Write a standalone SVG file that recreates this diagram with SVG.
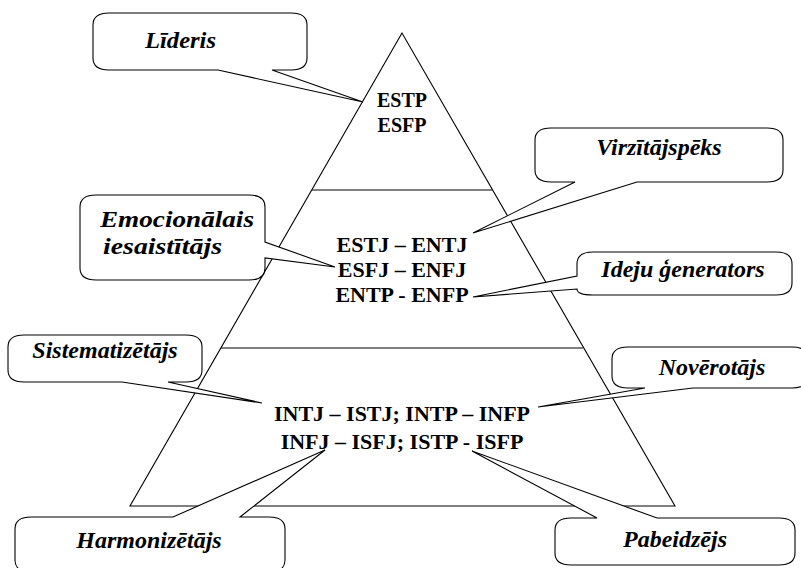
<svg xmlns="http://www.w3.org/2000/svg" width="801" height="568" viewBox="0 0 801 568">
<style>
.ln{fill:none;stroke:#000;stroke-width:1.1}
.co{fill:#fff;stroke:#000;stroke-width:1.1;stroke-linejoin:miter}
text{font-family:"Liberation Serif","Times New Roman",serif;font-weight:bold;fill:#000}
.lb{font-style:italic;font-size:24px}
.tx{font-size:22px;text-anchor:middle}
.tx20{font-size:20px}
</style>
<rect width="801" height="568" fill="#fff"/>
<g id="pyramid">
<polygon class="ln" points="402,33 130,506 675,506"/>
<line class="ln" x1="312" y1="190" x2="492" y2="190"/>
<line class="ln" x1="221" y1="348" x2="583" y2="348"/>
<text class="tx tx20" x="402" y="107">ESTP</text>
<text class="tx tx20" x="402" y="132">ESFP</text>
<text class="tx" x="402" y="252">ESTJ – ENTJ</text>
<text class="tx" x="402" y="277">ESFJ – ENFJ</text>
<text class="tx" x="402" y="302">ENTP - ENFP</text>
<text class="tx" x="402" y="421">INTJ – ISTJ; INTP – INFP</text>
<text class="tx" x="402" y="449">INFJ – ISFJ; ISTP - ISFP</text>
</g>
<g id="connectors"></g>
<g id="lideris">
<path class="co" d="M109,13 H291 Q307,13 307,25 V58 Q307,70 291,70 H272 L363,102 L218,70 H109 Q93,70 93,58 V25 Q93,13 109,13 Z"/>
<text class="lb" x="145" y="48" textLength="71" lengthAdjust="spacingAndGlyphs">Līderis</text>
</g>
<g id="virzitajspeks">
<path class="co" d="M551,128 H767 Q783,128 783,140 V170 Q783,182 767,182 H637 L473,233 L575,182 H551 Q535,182 535,170 V140 Q535,128 551,128 Z"/>
<text class="lb" x="659" y="155" text-anchor="middle">Virzītājspēks</text>
</g>
<g id="emocionalais">
<path class="co" d="M96,195 H249 Q265,195 265,207 V242 L335,267 L265,258 V268 Q265,280 249,280 H96 Q80,280 80,268 V207 Q80,195 96,195 Z"/>
<text class="lb" x="100" y="227" textLength="154" lengthAdjust="spacingAndGlyphs">Emocionālais</text>
<text class="lb" x="103" y="254" textLength="119" lengthAdjust="spacingAndGlyphs">iesaistītājs</text>
</g>
<g id="ideju">
<path class="co" d="M593,252 H776 Q792,252 792,264 V283 Q792,295 776,295 H593 Q577,295 577,289 L473,297 L577,276 V264 Q577,252 593,252 Z"/>
<text class="lb" x="683" y="277" text-anchor="middle">Ideju ģenerators</text>
</g>
<g id="sistematizetajs">
<path class="co" d="M24,335 H186 Q202,335 202,347 V370 Q202,382 186,382 H168 L262,403 L122,382 H24 Q8,382 8,370 V347 Q8,335 24,335 Z"/>
<text class="lb" x="105" y="358" text-anchor="middle">Sistematizētājs</text>
</g>
<g id="noverotajs">
<path class="co" d="M628,347 H792 Q808,347 808,359 V376 Q808,388 792,388 H693 L538,407 L645,388 H628 Q612,388 612,376 V359 Q612,347 628,347 Z"/>
<text class="lb" x="712" y="375" text-anchor="middle">Novērotājs</text>
</g>
<g id="harmonizetajs">
<path class="co" d="M31,517 H173 L325,450 L240,517 H269 Q285,517 285,529 V560 Q285,572 269,572 H31 Q15,572 15,560 V529 Q15,517 31,517 Z"/>
<text class="lb" x="149" y="548" text-anchor="middle">Harmonizētājs</text>
</g>
<g id="pabeidzejs">
<path class="co" d="M571,518 H597 L472,451 L657,518 H779 Q795,518 795,530 V553 Q795,565 779,565 H571 Q555,565 555,553 V530 Q555,518 571,518 Z"/>
<text class="lb" x="675" y="547" text-anchor="middle">Pabeidzējs</text>
</g>
</svg>
